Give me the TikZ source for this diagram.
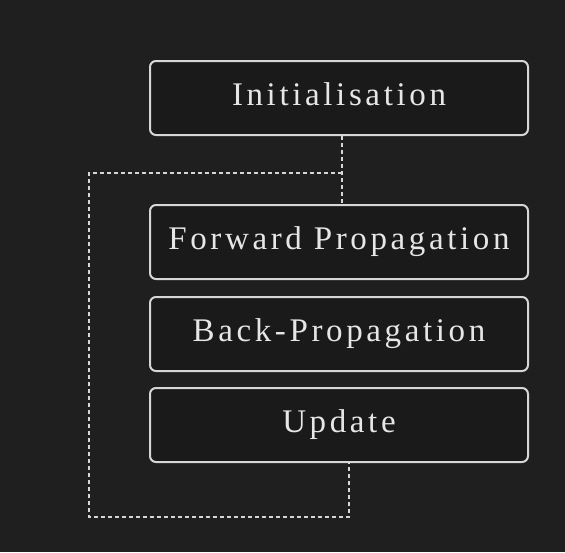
\documentclass[tikz,border=0pt]{standalone}
\usepackage{fontspec}
\newfontfamily\boxfont[LetterSpace=11]{Liberation Serif}
\definecolor{bgc}{HTML}{1F1F1F}
\definecolor{boxfill}{HTML}{1A1A1A}
\definecolor{linec}{HTML}{D6D6D6}
\definecolor{textc}{HTML}{E6E6E6}
\tikzset{
  stepbox/.style={draw=linec, fill=boxfill, line width=2pt, rounded corners=6pt,
    minimum width=378pt, minimum height=74pt, inner sep=0pt,
    text height=22pt, text depth=8pt,
    text=textc, font=\boxfont\fontsize{33}{38}\selectfont},
  loopline/.style={draw=linec, line width=1.6pt, dash pattern=on 4pt off 3pt}
}
\begin{document}
\begin{tikzpicture}[x=1pt,y=-1pt]
\fill[bgc] (0,0) rectangle (565,552);
\useasboundingbox (0,0) rectangle (565,552);
\node[stepbox] (init) at (339,98) {Initialisation};
\node[stepbox] (fwd) at (339,242) {Forward Propagation};
\node[stepbox] (back) at (339,334) {Back-Propagation};
\node[stepbox] (upd) at (339,425) {Update};
\coordinate (j1) at (342,173);
\coordinate (c1) at (89,173);
\coordinate (c2) at (89,517);
\coordinate (c3) at (349,517);
\draw[loopline] (init.south -| j1) -- (fwd.north -| j1);
\draw[loopline] (j1) -- (c1) -- (c2) -- (c3) -- (upd.south -| c3);
\end{tikzpicture}
\end{document}
